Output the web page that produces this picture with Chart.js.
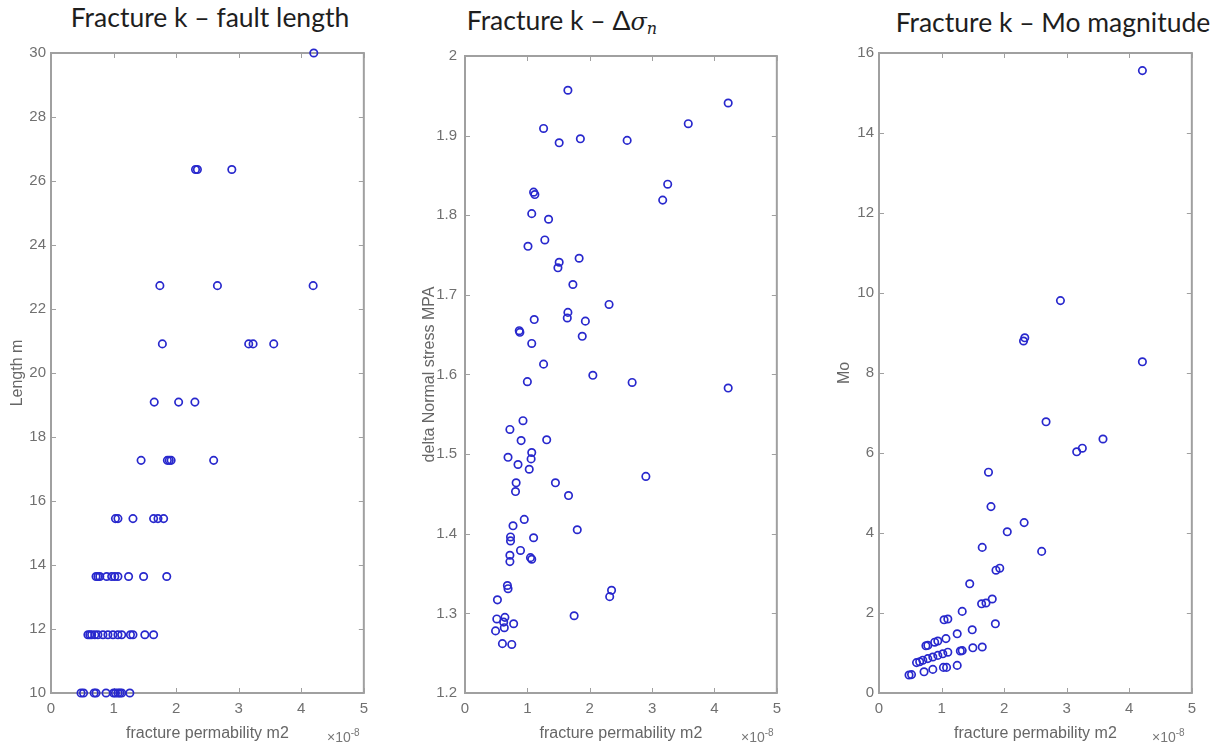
<!DOCTYPE html>
<html>
<head>
<meta charset="utf-8">
<script src="https://cdn.jsdelivr.net/npm/chart.js@4.4.1/dist/chart.umd.min.js"></script>
<style>
  body { margin: 0; width: 1222px; height: 747px; background: #fff; position: relative; overflow: hidden;
         font-family: "Liberation Sans", Arial, sans-serif; }
  .title { position: absolute; font-family: Lato, sans-serif; font-size: 26.5px; line-height: 30px;
           color: #1e1e1e; white-space: nowrap; transform: translateX(-50%); }
  .title i { font-family: "DejaVu Serif", serif; font-size: 24px; }
  .title sub { font-size: 16px; vertical-align: -4px; }
  .exp { position: absolute; font-size: 14px; color: #777; white-space: nowrap; }
  .exp sup { font-size: 10px; vertical-align: 6px; }
  canvas { position: absolute; top: 39px; }
</style>
</head>
<body>
<div class="title" style="left:210px; top:2px">Fracture k – fault length</div>
<div class="title" style="left:562px; top:5px">Fracture k – Δ<i>σ<sub>n</sub></i></div>
<div class="title" style="left:1053px; top:7px">Fracture k – Mo magnitude</div>

<canvas id="lenChart" width="375" height="708" style="left:0px; width:375px; height:708px"></canvas>
<canvas id="stressChart" width="388" height="708" style="left:400px; width:388px; height:708px"></canvas>
<canvas id="moChart" width="383" height="708" style="left:820px; width:383px; height:708px"></canvas>

<div class="exp" style="left:327px; top:727px">×10<sup>-8</sup></div>
<div class="exp" style="left:741px; top:727px">×10<sup>-8</sup></div>
<div class="exp" style="left:1152px; top:727px">×10<sup>-8</sup></div>

<script>
// permeability values are in units of 1e-8 m2
const permTicks = [0, 1, 2, 3, 4, 5];

// ===== fault length =====
const lenPerm = [
  4.20,
  2.31, 2.34, 2.89,
  1.74, 2.66, 4.19,
  1.78, 3.16, 3.23, 3.56,
  1.65, 2.04, 2.30,
  1.44, 1.86, 1.89, 1.92, 2.60,
  1.03, 1.07, 1.31, 1.64, 1.71, 1.80,
  0.72, 0.75, 0.78, 0.89, 0.97, 1.02, 1.07, 1.24, 1.48, 1.85,
  0.59, 0.62, 0.65, 0.70, 0.75, 0.83, 0.91, 0.99, 1.07, 1.13, 1.27, 1.31, 1.50, 1.64,
  0.48, 0.52, 0.69, 0.72, 0.88, 1.00, 1.03, 1.07, 1.10, 1.13, 1.26
];
const lenM = [
  30,
  26.36, 26.36, 26.36,
  22.73, 22.73, 22.73,
  20.91, 20.91, 20.91, 20.91,
  19.09, 19.09, 19.09,
  17.27, 17.27, 17.27, 17.27, 17.27,
  15.45, 15.45, 15.45, 15.45, 15.45, 15.45,
  13.64, 13.64, 13.64, 13.64, 13.64, 13.64, 13.64, 13.64, 13.64, 13.64,
  11.82, 11.82, 11.82, 11.82, 11.82, 11.82, 11.82, 11.82, 11.82, 11.82, 11.82, 11.82, 11.82, 11.82,
  10, 10, 10, 10, 10, 10, 10, 10, 10, 10, 10
];
const lenTicks = [10, 12, 14, 16, 18, 20, 22, 24, 26, 28, 30];

// ===== delta normal stress =====
const stressPerm = [
  1.65, 4.22, 1.26, 1.51, 1.85, 2.60, 3.58, 3.25, 3.17, 1.10,
  1.12, 1.07, 1.34, 1.28, 1.01, 1.51, 1.49, 1.83, 1.73, 2.31,
  1.65, 1.64, 1.11, 1.93, 0.87, 0.88, 1.88, 1.07, 1.26, 2.05,
  1.00, 2.68, 4.22, 0.93, 0.72, 0.90, 1.31, 1.07, 0.69, 1.06,
  0.85, 1.03, 0.82, 1.45, 2.90, 0.81, 1.66, 0.95, 0.77, 1.80,
  0.73, 0.73, 1.10, 0.89, 0.72, 0.72, 1.05, 1.07, 0.68, 0.69,
  0.52, 2.35, 2.32, 0.51, 0.64, 0.62, 0.78, 0.63, 0.49, 1.75,
  0.60, 0.75
];
const stressMPa = [
  1.957, 1.941, 1.909, 1.891, 1.896, 1.894, 1.915, 1.839, 1.819, 1.829,
  1.826, 1.802, 1.795, 1.769, 1.761, 1.741, 1.734, 1.746, 1.713, 1.688,
  1.678, 1.671, 1.669, 1.667, 1.655, 1.653, 1.648, 1.639, 1.613, 1.599,
  1.591, 1.590, 1.583, 1.542, 1.531, 1.517, 1.518, 1.502, 1.496, 1.494,
  1.487, 1.481, 1.464, 1.464, 1.472, 1.453, 1.448, 1.418, 1.410, 1.405,
  1.396, 1.391, 1.395, 1.379, 1.373, 1.365, 1.370, 1.368, 1.335, 1.331,
  1.317, 1.329, 1.321, 1.293, 1.295, 1.289, 1.287, 1.282, 1.278, 1.297,
  1.262, 1.261
];
const stressTicks = [1.2, 1.3, 1.4, 1.5, 1.6, 1.7, 1.8, 1.9, 2.0];

// ===== Mo magnitude =====
const moPerm = [
  4.21, 2.90, 2.31, 2.33, 4.21, 2.67, 3.58, 3.16, 3.25, 1.75,
  1.79, 2.32, 2.05, 1.65, 2.60, 1.87, 1.93, 1.45, 1.33, 1.64,
  1.71, 1.81, 1.04, 1.10, 1.86, 1.49, 1.25, 0.75, 0.78, 0.89,
  0.94, 1.07, 0.60, 0.65, 0.70, 0.78, 0.86, 0.94, 1.02, 1.10,
  1.30, 1.33, 1.50, 1.65, 0.72, 0.86, 1.03, 1.08, 1.25, 0.48,
  0.52
];
const moVals = [
  15.56, 9.81, 8.80, 8.88, 8.28, 6.78, 6.35, 6.03, 6.12, 5.52,
  4.66, 4.26, 4.03, 3.64, 3.54, 3.07, 3.12, 2.73, 2.04, 2.23,
  2.25, 2.35, 1.83, 1.85, 1.73, 1.58, 1.48, 1.18, 1.19, 1.27,
  1.30, 1.36, 0.76, 0.78, 0.82, 0.86, 0.90, 0.94, 0.98, 1.02,
  1.05, 1.06, 1.13, 1.15, 0.53, 0.59, 0.64, 0.64, 0.69, 0.45,
  0.46
];
const moTicks = [0, 2, 4, 6, 8, 10, 12, 14, 16];

const axisGray = '#a0a0a0';
const labelGray = '#707070';

// axes box with inward tick marks on all four sides
const boxPlugin = {
  id: 'box',
  beforeDatasetsDraw(chart) {
    const { ctx, chartArea: a, scales } = chart;
    const tl = 5;
    ctx.save();
    ctx.strokeStyle = axisGray;
    ctx.lineWidth = 2;
    ctx.strokeRect(a.left, a.top, a.right - a.left, a.bottom - a.top);
    ctx.lineWidth = 1;
    ctx.beginPath();
    scales.x.ticks.forEach(t => {
      const px = Math.round(scales.x.getPixelForValue(t.value)) + 0.5;
      ctx.moveTo(px, a.bottom); ctx.lineTo(px, a.bottom - tl);
      ctx.moveTo(px, a.top); ctx.lineTo(px, a.top + tl);
    });
    scales.y.ticks.forEach(t => {
      const py = Math.round(scales.y.getPixelForValue(t.value)) + 0.5;
      ctx.moveTo(a.left, py); ctx.lineTo(a.left + tl, py);
      ctx.moveTo(a.right, py); ctx.lineTo(a.right - tl, py);
    });
    ctx.stroke();
    ctx.restore();
  }
};

function makePanel(id, xs, ys, yTicks, yTitle, yWidth, yTitlePad, yLabelPad) {
  const points = xs.map((x, i) => ({ x: x, y: ys[i] }));
  const tickFont = { family: '"Liberation Sans", Arial, sans-serif', size: 15 };
  const titleFont = { family: '"Liberation Sans", Arial, sans-serif', size: 16 };
  new Chart(document.getElementById(id), {
    type: 'scatter',
    data: {
      datasets: [{
        data: points,
        pointStyle: 'circle',
        pointRadius: 3.7,
        pointBorderWidth: 1.7,
        borderColor: 'rgb(40,40,205)',
        backgroundColor: 'rgba(0,0,0,0)',
        clip: false
      }]
    },
    options: {
      responsive: false,
      animation: false,
      layout: { padding: { top: 10, right: 10, left: 0, bottom: 0 } },
      plugins: { legend: { display: false }, tooltip: { enabled: false } },
      scales: {
        x: {
          type: 'linear',
          min: permTicks[0],
          max: permTicks[permTicks.length - 1],
          afterBuildTicks: s => { s.ticks = permTicks.map(v => ({ value: v })); },
          afterFit: s => { s.height = 54; },
          grid: { display: false, drawTicks: false },
          border: { display: false },
          ticks: { color: labelGray, font: tickFont, padding: 7, maxRotation: 0,
                   callback: v => String(v) },
          title: { display: true, text: 'fracture permability m2', color: '#666',
                   font: titleFont, padding: { top: 0, bottom: 3.4 } }
        },
        y: {
          type: 'linear',
          min: yTicks[0],
          max: yTicks[yTicks.length - 1],
          afterBuildTicks: s => { s.ticks = yTicks.map(v => ({ value: v })); },
          afterFit: s => { s.width = yWidth; },
          grid: { display: false, drawTicks: false },
          border: { display: false },
          ticks: { color: labelGray, font: tickFont, padding: yLabelPad,
                   callback: v => String(Math.round(v * 10) / 10) },
          title: { display: true, text: yTitle, color: '#666',
                   font: titleFont, padding: { top: yTitlePad, bottom: 0 } }
        }
      }
    },
    plugins: [boxPlugin]
  });
}

makePanel('lenChart', lenPerm, lenM, lenTicks, 'Length m', 51, 8.4, 5);
makePanel('stressChart', stressPerm, stressMPa, stressTicks, 'delta Normal stress MPA', 65, 20.4, 8);
makePanel('moChart', moPerm, moVals, moTicks, 'Mo', 59, 15.4, 5);
</script>
</body>
</html>
